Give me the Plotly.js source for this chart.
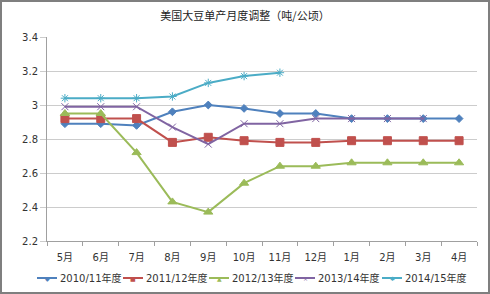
<!DOCTYPE html>
<html><head><meta charset="utf-8">
<script src="https://cdn.plot.ly/plotly-3.0.1.min.js"></script>
<style>html,body{margin:0;padding:0;background:#fff;}#c{width:490px;height:294px;position:relative;}
#f{position:absolute;left:0;top:0;width:490px;height:294px;box-sizing:border-box;border:2px solid #7f7f7f;pointer-events:none;}</style>
</head><body><div style="position:relative"><div id="c"></div><div id="f"></div></div>
<script>
const months = ["5月","6月","7月","8月","9月","10月","11月","12月","1月","2月","3月","4月"];
const s2010 = [2.89,2.89,2.88,2.96,3.00,2.98,2.95,2.95,2.92,2.92,2.92,2.92];
const s2011 = [2.92,2.92,2.92,2.78,2.81,2.79,2.78,2.78,2.79,2.79,2.79,2.79];
const s2012 = [2.95,2.95,2.72,2.43,2.37,2.54,2.64,2.64,2.66,2.66,2.66,2.66];
const s2013 = [2.99,2.99,2.99,2.87,2.77,2.89,2.89,2.92,2.92,2.92,2.92,null];
const s2014 = [3.04,3.04,3.04,3.05,3.13,3.17,3.19,null,null,null,null,null];
const names = ["2010/11年度","2011/12年度","2012/13年度","2013/14年度","2014/15年度"];
const colors = ["#4F81BD","#C0504D","#9BBB59","#8064A2","#4BACC6"];
const yTicks = [2.2,2.4,2.6,2.8,3.0,3.2,3.4];
const yTickText = ["2.2","2.4","2.6","2.8","3","3.2","3.4"];

const font = "DejaVu Sans, Noto Sans CJK SC, sans-serif";
const W = 490, H = 294, M = {l:47, r:13, t:37, b:53};
const PW = W - M.l - M.r, PH = H - M.t - M.b;
function tr(y, i, sym, size){
  return {x: months, y: y, name: names[i], type:"scatter", mode:"lines+markers", showlegend:false,
    line:{color:colors[i], width:2}, marker:{symbol:sym, size:size, color:colors[i], line:{color:colors[i],width:1}}};
}
const data = [
  tr(s2010, 0, "diamond", 6),
  tr(s2011, 1, "square", 8),
  tr(s2012, 2, "triangle-up", 8),
  tr(s2013, 3, "x-thin-open", 7),
  tr(s2014, 4, "asterisk-open", 7)
];
// custom legend (Excel-like compact layout)
const legX = [37, 123, 209, 295, 382];   // pixel start of each legend sample
const legY = 278;
const legGlyph = ["◆","■","▲","×","✱"];
const px2x = p => (p - M.l) / PW;
const py2y = p => (H - M.b - p) / PH;
const shapes = [], annotations = [];
names.forEach((n, i) => {
  shapes.push({type:"line", xref:"paper", yref:"paper", x0:px2x(legX[i]), x1:px2x(legX[i]+20), y0:py2y(legY), y1:py2y(legY),
    line:{color:colors[i], width:2}});
  annotations.push({xref:"paper", yref:"paper", x:px2x(legX[i]+10), y:py2y(legY), text:legGlyph[i], showarrow:false,
    xanchor:"center", yanchor:"middle", font:{size:6, color:colors[i], family:"DejaVu Sans"}});
  annotations.push({xref:"paper", yref:"paper", x:px2x(legX[i]+21), y:py2y(legY), text:n, showarrow:false,
    xanchor:"left", yanchor:"middle", font:{size:10, color:"#333", family:font}});
});
const layout = {
  width:W, height:H,
  margin:{l:M.l, r:M.r, t:M.t, b:M.b, autoexpand:false},
  paper_bgcolor:"#fff", plot_bgcolor:"#fff",
  font:{family:font, size:10, color:"#333"},
  title:{text:"美国大豆单产月度调整（吨/公顷）", font:{family:"Noto Sans CJK SC", size:11, color:"#222"}, x:0.5, xanchor:"center", y:0.945, yanchor:"middle"},
  showlegend:false,
  shapes:shapes, annotations:annotations,
  xaxis:{type:"category", range:[-0.5,11.5], showgrid:false, showline:true, linecolor:"#a0a0a0", linewidth:1,
    ticks:"outside", ticklen:4, tickcolor:"#a0a0a0", tickson:"boundaries", tickfont:{size:10}, ticklabelstandoff:7, zeroline:false, fixedrange:true},
  yaxis:{range:[2.2,3.4], tickvals:yTicks, ticktext:yTickText, showgrid:true, gridcolor:"#cccccc", gridwidth:1,
    showline:true, linecolor:"#a0a0a0", linewidth:1, ticks:"outside", ticklen:6, tickcolor:"#cccccc", zeroline:false, tickfont:{size:10}, fixedrange:true}
};
Plotly.newPlot("c", data, layout, {displayModeBar:false, staticPlot:true});
</script></body></html>
